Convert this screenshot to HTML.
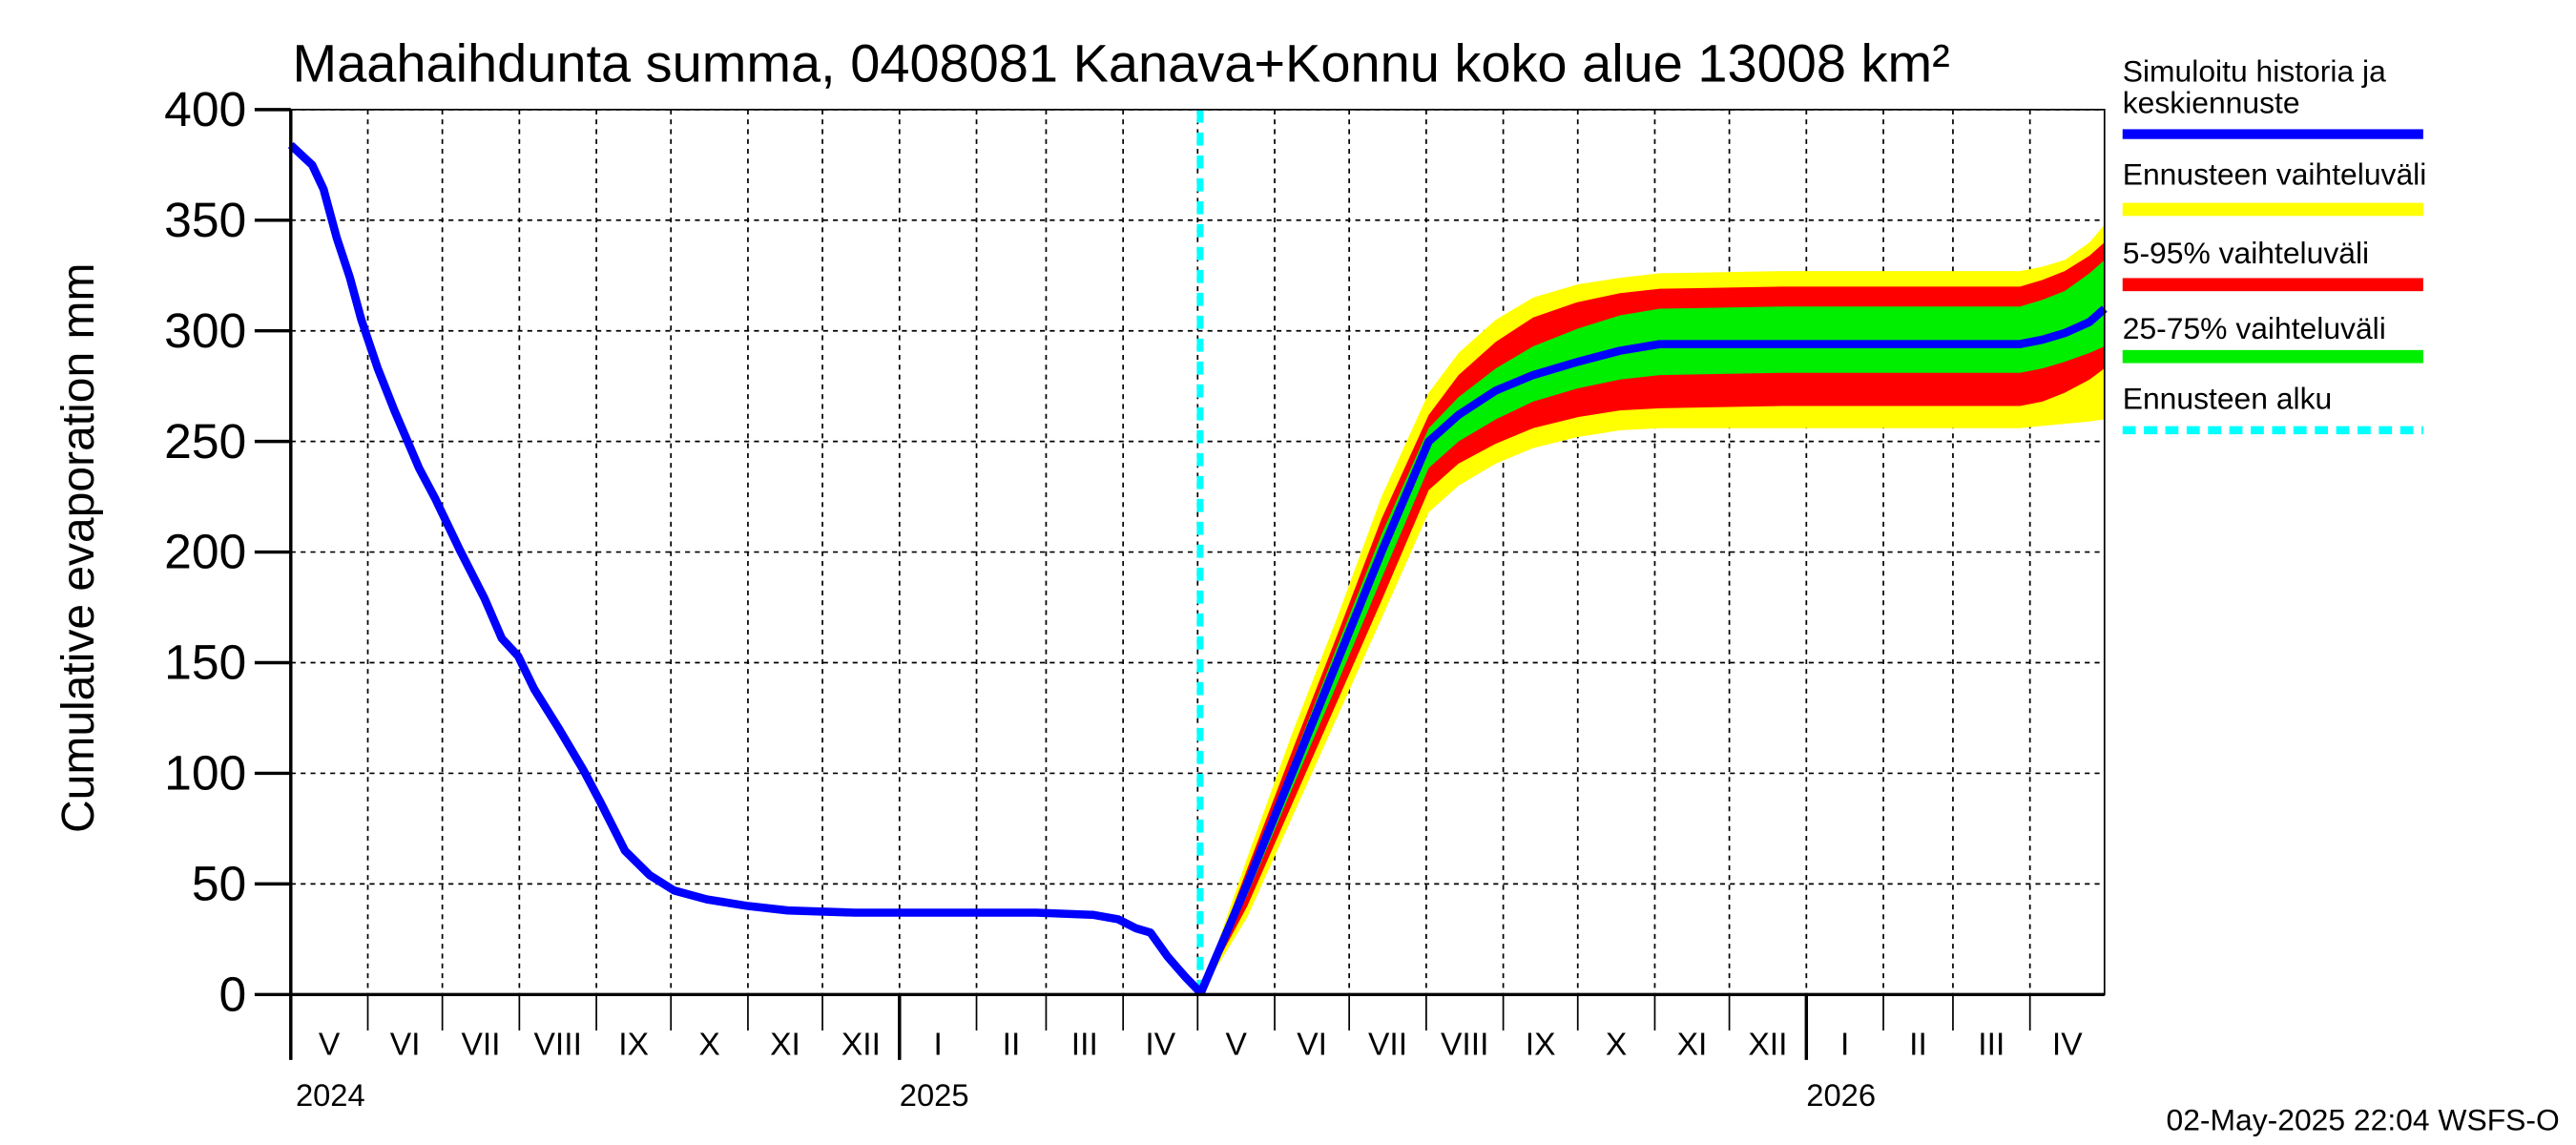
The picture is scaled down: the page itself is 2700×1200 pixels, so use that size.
<!DOCTYPE html>
<html><head><meta charset="utf-8"><style>html,body{margin:0;padding:0;background:#fff}svg{display:block}text{font-family:"Liberation Sans",sans-serif;fill:#000}</style></head>
<body>
<svg id="chart" width="2700" height="1200" viewBox="0 0 1568 700" preserveAspectRatio="none" xmlns="http://www.w3.org/2000/svg">
<text x="178" y="50" font-size="32.5">Maahaihdunta summa, 0408081 Kanava+Konnu koko alue 13008 km²</text>
<text transform="translate(57,335) rotate(-90)" text-anchor="middle" font-size="28">Cumulative evaporation   mm</text>
<g id="grid"></g><g id="bands"></g><g id="lines"></g><g id="axes"></g>
<g font-size="18.5">
<text x="1292" y="50">Simuloitu historia ja</text><text x="1292" y="69">keskiennuste</text>
<rect x="1292" y="79" width="183" height="6" fill="#0000ff"/>
<text x="1292" y="113">Ennusteen vaihteluväli</text>
<rect x="1292" y="124" width="183" height="8" fill="#ffff00"/>
<text x="1292" y="161">5-95% vaihteluväli</text>
<rect x="1292" y="170" width="183" height="8" fill="#ff0000"/>
<text x="1292" y="207">25-75% vaihteluväli</text>
<rect x="1292" y="214" width="183" height="8" fill="#00ee00"/>
<text x="1292" y="250">Ennusteen alku</text>
<line x1="1292" y1="263" x2="1475" y2="263" stroke="#00ffff" stroke-width="5" stroke-dasharray="8,5"/>
</g>
<text x="1558" y="691" text-anchor="end" font-size="18.5">02-May-2025 22:04 WSFS-O</text>
</svg>
<script>
const histDays=[0,8.6,13.2,18.5,23.8,28.4,35,41.7,51.6,58.2,68,78,84.9,91.5,98,108,118,124.6,134.5,144.4,154.3,167.5,184,200,227,280,300,323,333,340,346,353,360,366];
const histVals=[384,375,364,342,324,305,283,264,238,224,201,179,161,153,138,120,101,87,65,54,47,43,40,38,37,37,37,36,34,30,28,17,8,1];
const fDays=[366,385,403,421,439,458,470,485,500,518,535,551,600,696,705,714,724,730];
const fMed=[0,50,100,150,200,250,262,273,280,286,291,294,294,294,296,299,304,310];
const fP25=[0,45,93,140,188,238,250,260,268,274,278,280,281,281,283,286,290,293];
const fP75=[0,53,105,157,208,256,270,283,293,301,307,310,311,311,314,318,326,332];
const fP5=[0,40,86,132,178,228,240,249,256,261,264,265,266,266,268,272,278,283];
const fP95=[0,57,110,162,215,262,280,295,306,313,317,319,320,320,323,327,334,340];
const fMin=[0,35,80,125,170,218,230,240,247,252,255,256,256,256,257,258,259,260];
const fMax=[0,62,118,170,225,272,290,305,315,321,324,326,327,327,329,332,340,348];
const yTicks=[0,50,100,150,200,250,300,350,400];
const monthLabels=["V","VI","VII","VIII","IX","X","XI","XII","I","II","III","IV","V","VI","VII","VIII","IX","X","XI","XII","I","II","III","IV"];
const monthLens=[31,30,31,31,30,31,30,31,31,28,31,30,31,30,31,31,30,31,30,31,31,28,31,30];
const yearLabels=["2024","2025","2026"];
const forecastDay=366;
const X0=177,X1=1281,Y0=608,Y1=67,TOT=730;
const xs=d=>X0+d*(X1-X0)/TOT, ys=v=>Y0-v*(Y0-Y1)/400;
const NS="http://www.w3.org/2000/svg";
function mk(p,t,a){const e=document.createElementNS(NS,t);for(const k in a)e.setAttribute(k,a[k]);document.getElementById(p).appendChild(e);return e;}
yTicks.forEach(v=>{
 const g=mk('grid','line',{x1:X0,x2:X1,y1:ys(v),y2:ys(v),stroke:'#000','stroke-width':1,'stroke-dasharray':'3,3'});
 
 
 const t=mk('axes','line',{x1:X0-22,x2:X0,y1:ys(v),y2:ys(v),stroke:'#000','stroke-width':2});
 
 
 const l=mk('axes','text',{x:X0-27,y:ys(v)+10,'text-anchor':'end','font-size':30});l.textContent=v;
 
 
});
let d=0,yi=0;
monthLens.forEach((len,i)=>{
 if(d>0){const g=mk('grid','line',{x1:xs(d),x2:xs(d),y1:Y1,y2:Y0,stroke:'#000','stroke-width':1,'stroke-dasharray':'3,3'});
 
 }
 const yr=monthLabels[i]==="I";
 const t=mk('axes','line',{x1:xs(d),x2:xs(d),y1:Y0,y2:yr?Y0+40:Y0+22,stroke:'#000','stroke-width':yr?2:1});
 
 
 const l=mk('axes','text',{x:xs(d+len/2),y:Y0+37,'text-anchor':'middle','font-size':19.5});l.textContent=monthLabels[i];
 
 
 if(i===0||yr){const y=mk('axes','text',{x:xs(d)+(i===0?3:0),y:Y0+68,'font-size':19});y.textContent=yearLabels[yi++];
 
 }
 d+=len;
});
function band(lo,hi,col,name){
 let p='M'+fDays.map((dd,i)=>xs(dd)+','+ys(hi[i])).join('L');
 for(let i=fDays.length-1;i>=0;i--)p+='L'+xs(fDays[i])+','+ys(lo[i]);
 const e=mk('bands','path',{d:p+'Z',fill:col});
 
 
}
band(fMin,fMax,'#ffff00','band-min-max');
band(fP5,fP95,'#ff0000','band-5-95');
band(fP25,fP75,'#00ee00','band-25-75');
const fs=mk('lines','line',{x1:xs(forecastDay),x2:xs(forecastDay),y1:Y1,y2:Y0,stroke:'#00ffff','stroke-width':4,'stroke-dasharray':'8,6'});


const h=mk('lines','polyline',{points:histDays.map((dd,i)=>xs(dd)+','+ys(histVals[i])).join(' '),fill:'none',stroke:'#0000ff','stroke-width':5,'stroke-linejoin':'round'});


const m=mk('lines','polyline',{points:fDays.map((dd,i)=>xs(dd)+','+ys(fMed[i])).join(' '),fill:'none',stroke:'#0000ff','stroke-width':5,'stroke-linejoin':'round'});


const fr=mk('axes','rect',{x:X0,y:Y1,width:X1-X0,height:Y0-Y1,fill:'none',stroke:'#000','stroke-width':1});


const ax=mk('axes','line',{x1:X0,x2:X0,y1:Y1,y2:Y0+40,stroke:'#000','stroke-width':2});


const bx=mk('axes','line',{x1:X0,x2:X1,y1:Y0,y2:Y0,stroke:'#000','stroke-width':2});


</script>
</body></html>
